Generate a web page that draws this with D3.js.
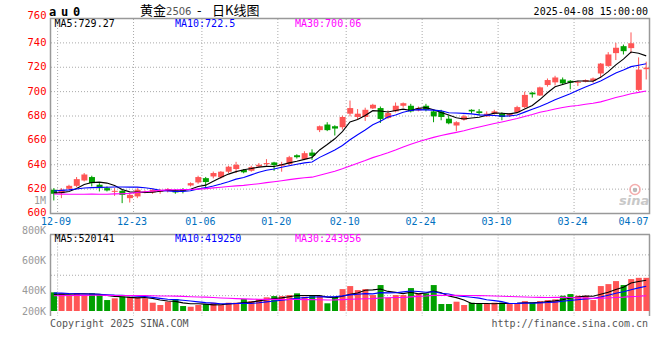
<!DOCTYPE html>
<html>
<head>
<meta charset="utf-8">
<script src="https://cdn.jsdelivr.net/npm/d3@7"></script>
<style>
  body { margin: 0; background: #fff; }
  svg { display: block; }
  text { font-family: "DejaVu Sans Mono", monospace; font-size: 10px; }
</style>
</head>
<body>
<svg id="chart" width="660" height="360"></svg>
<script>
// trading days shown (12-09 .. 04-08)
var dates = ['12-09','12-10','12-11','12-12','12-13','12-16','12-17','12-18','12-19','12-20',
  '12-23','12-24','12-25','12-26','12-27','12-30','12-31','01-02','01-03',
  '01-06','01-07','01-08','01-09','01-10','01-13','01-14','01-15','01-16','01-17',
  '01-20','01-21','01-22','01-23','01-24','01-27','02-05','02-06','02-07',
  '02-10','02-11','02-12','02-13','02-14','02-17','02-18','02-19','02-20','02-21',
  '02-24','02-25','02-26','02-27','02-28','03-03','03-04','03-05','03-06','03-07',
  '03-10','03-11','03-12','03-13','03-14','03-17','03-18','03-19','03-20','03-21',
  '03-24','03-25','03-26','03-27','03-28','03-31','04-01','04-02','04-03','04-07','04-08'];

var opens = [619.5,616.7,620.3,622.7,627.1,629.9,623.6,620.8,617.8,618.6,
  612.6,614.0,617.3,617.3,617.8,618.4,618.9,620.0,623.0,625.5,
  629.0,630.4,629.7,634.3,636.5,635.7,635.1,638.6,640.5,641.9,
  639.2,640.5,647.8,644.6,650.0,668.4,673.0,671.6,670.8,681.9,
  679.2,679.2,686.2,686.5,678.4,683.8,688.4,688.4,684.6,688.4,
  683.8,683.8,677.8,672.2,677.0,685.1,683.8,679.7,681.9,681.9,
  680.3,683.0,687.3,699.2,696.8,705.4,707.6,710.0,708.9,707.3,
  708.1,708.9,714.9,721.1,731.6,737.3,735.7,701.4,718.4];
var highs = [620.8,620.8,623.6,629.9,633.2,631.0,624.9,622.2,620.8,620.0,
  616.2,620.8,619.0,620.0,620.0,620.8,620.0,620.8,625.5,631.0,
  630.0,634.4,634.8,639.2,642.4,636.5,639.2,641.4,644.6,642.4,
  642.4,647.3,648.6,651.1,652.7,672.2,674.9,672.4,680.3,692.7,
  685.7,686.8,690.0,687.8,684.6,691.1,691.1,690.0,687.8,690.0,
  685.1,685.1,680.5,675.7,681.1,685.5,685.7,683.8,685.1,683.0,
  682.4,688.4,700.0,699.6,704.1,710.8,713.0,711.6,709.5,708.9,
  710.0,711.6,723.5,732.4,740.0,738.6,748.6,728.1,724.6];
var lows = [610.7,612.6,619.5,621.6,626.3,622.2,618.1,618.1,614.5,608.5,
  609.0,612.6,616.5,616.2,616.2,617.3,616.2,616.5,622.2,624.4,
  620.0,628.8,628.6,633.2,633.2,633.0,634.3,637.8,638.6,635.0,
  634.3,639.7,645.1,643.8,644.0,666.8,667.6,664.0,668.9,679.7,
  677.0,675.9,685.7,674.3,677.6,683.0,686.8,682.9,683.8,683.8,
  674.9,676.5,673.2,667.6,676.2,681.9,680.3,679.2,681.1,676.5,
  679.2,682.4,686.5,695.1,696.5,704.1,705.1,705.4,701.9,704.6,
  707.6,707.3,711.4,720.3,725.9,730.5,731.4,700.5,710.0];
var closes = [616.2,619.5,622.7,628.2,632.0,624.9,620.8,618.9,618.6,615.3,
  615.3,619.5,617.8,619.5,618.9,620.0,617.3,618.4,624.9,629.9,
  625.8,633.2,634.3,638.4,640.0,633.8,638.1,640.0,641.4,639.7,
  640.5,646.2,646.2,649.5,647.3,671.6,668.4,669.7,679.2,686.5,
  681.9,685.1,689.2,677.6,682.4,688.4,690.5,683.8,686.5,685.1,
  679.7,679.2,674.0,674.9,679.7,683.8,682.4,681.9,683.8,679.2,
  681.6,687.3,697.3,697.8,703.5,709.5,711.6,706.8,707.3,708.1,
  709.5,710.8,723.0,730.5,736.0,733.2,739.7,718.1,719.7];
var volumes = [315,298,269,298,269,298,269,185,214,241,
  241,231,214,140,101,157,202,84,72,101,
  118,140,101,140,140,202,168,202,231,252,
  252,269,298,241,252,252,130,241,370,421,
  353,370,269,438,224,269,269,387,298,298,
  438,118,118,157,101,140,118,118,140,140,
  118,130,168,140,168,185,197,258,286,258,
  258,185,421,454,505,438,539,560,560].map(function(v){ return v * 1000; });

// closes and volumes before the window, only used to seed the moving averages
var priorCloses = [623,626,628,630,624,622,621,608,612,606,600,598,601,603,608,614,617,622,620,613,
  614,618,622,623,622,619,618,616,615.8];
var priorVolumes = [220,240,230,260,250,245,270,280,260,240,230,210,220,215,225,230,220,215,235,215,
  300,340,330,320,311,290,270,280,264].map(function(v){ return v * 1000; });

var priceTicks = [600,620,640,660,680,700,720,740,760];
var dateTicks = ['12-09','12-23','01-06','01-20','02-10','02-24','03-10','03-24','04-07'];
var volTicks = [200000,400000,600000,800000,1000000];
var maPeriods = [5,10,30];
var maColors = ['#000000','#0000ff','#ff00ff'];
var priceMaText = ['729.27','722.5','700.06'];
var volMaText = ['520141','419250','243956'];

var up = '#ff5555', down = '#00a000', gridColor = '#aaa', frameColor = '#999';

var svg = d3.select('#chart');

var x = d3.scaleBand().domain(dates).range([50, 650]).padding(0);
var y = d3.scaleLinear().domain([600, 760]).range([213.5, 18.5]);
var yVol = d3.scaleLinear().domain([0, 1300000]).range([311, 234]);
var yVolLabel = d3.scaleLinear().domain([0, 1000000]).range([350, 200]);

var volTop = 234.5, volBottom = 316;
var cx = function(d){ return x(d) + x.bandwidth() / 2; };

var movingAvg = function(series, prior, n){
  var all = prior.concat(series);
  return series.map(function(_, i){
    var end = prior.length + i;
    return d3.mean(all.slice(end - n + 1, end + 1));
  });
};

// ---- grid ----
var grid = svg.append('g').attr('stroke', gridColor).attr('stroke-dasharray', '1,2');
priceTicks.slice(1, -1).forEach(function(v){
  grid.append('line').attr('x1', 51).attr('x2', 649).attr('y1', y(v)).attr('y2', y(v));
});
d3.range(1, 4).forEach(function(k){
  var gy = volTop + k * (volBottom - volTop) / 4;
  grid.append('line').attr('x1', 51).attr('x2', 649).attr('y1', gy).attr('y2', gy);
});
dateTicks.forEach(function(t){
  var gx = x(t) + x.step();
  if(gx > 640) return;
  grid.append('line').attr('x1', gx).attr('x2', gx).attr('y1', 19).attr('y2', 213);
  grid.append('line').attr('x1', gx).attr('x2', gx).attr('y1', volTop).attr('y2', volBottom);
});

// ---- frames ----
var frame = svg.append('g').attr('stroke', frameColor).attr('fill', 'none');
frame.append('rect').attr('x', 50.5).attr('y', 18.5).attr('width', 599).attr('height', 195)
  .attr('stroke-width', 1.5);
frame.append('line').attr('x1', 50).attr('x2', 650).attr('y1', volTop).attr('y2', volTop).attr('stroke-width', 1.5);
frame.append('line').attr('x1', 50.5).attr('x2', 50.5).attr('y1', volTop).attr('y2', volBottom).attr('stroke-width', 1.5);
frame.append('line').attr('x1', 649.5).attr('x2', 649.5).attr('y1', volTop).attr('y2', volBottom).attr('stroke-width', 1.5);

// ---- candles ----
var candles = svg.append('g').selectAll('g').data(dates).join('g')
  .attr('fill', function(d, i){ return closes[i] >= opens[i] ? up : down; })
  .attr('stroke', function(d, i){ return closes[i] >= opens[i] ? up : down; });
candles.append('line')
  .attr('x1', cx).attr('x2', cx)
  .attr('y1', function(d, i){ return y(highs[i]); })
  .attr('y2', function(d, i){ return y(lows[i]); })
  .attr('stroke-width', 1);
candles.append('rect')
  .attr('x', function(d){ return x(d) + 1; })
  .attr('width', x.bandwidth() - 1.6)
  .attr('y', function(d, i){ return y(Math.max(opens[i], closes[i])); })
  .attr('height', function(d, i){ return Math.max(1, Math.abs(y(opens[i]) - y(closes[i]))); })
  .attr('stroke', 'none');

// ---- volume bars ----
svg.append('g').selectAll('rect').data(dates).join('rect')
  .attr('x', function(d){ return x(d) + 1; })
  .attr('width', x.bandwidth() - 1.6)
  .attr('y', function(d, i){ return yVol(volumes[i]); })
  .attr('height', function(d, i){ return yVol(0) - yVol(volumes[i]); })
  .attr('fill', function(d, i){ return closes[i] >= opens[i] ? up : down; });

// ---- moving averages ----
maPeriods.forEach(function(n, k){
  var pm = movingAvg(closes, priorCloses, n);
  var vm = movingAvg(volumes, priorVolumes, n);
  svg.append('path').datum(pm)
    .attr('fill', 'none').attr('stroke', maColors[k]).attr('stroke-width', 1.1)
    .attr('d', d3.line().x(function(d, i){ return cx(dates[i]); }).y(function(d){ return y(d); }));
  svg.append('path').datum(vm)
    .attr('fill', 'none').attr('stroke', maColors[k]).attr('stroke-width', 1.1)
    .attr('d', d3.line().x(function(d, i){ return cx(dates[i]); }).y(function(d){ return yVol(d); }));
});

// ---- axes labels ----
var priceAxis = svg.append('g').attr('transform', 'translate(46.5,-1)')
  .call(d3.axisLeft(y).tickValues(priceTicks).tickSize(0).tickPadding(0));
priceAxis.select('.domain').remove();
priceAxis.selectAll('text').attr('fill', '#ff0000')
  .attr('dy', function(v){ return v === 760 ? '0.05em' : '0.32em'; })
  .style('font-family', '"DejaVu Sans Mono", monospace').style('font-size', '10.5px');

svg.append('g').selectAll('text').data(volTicks).join('text')
  .attr('x', 46).attr('y', function(v){ return Math.min(yVolLabel(v), 311); })
  .attr('dy', '0.35em').attr('text-anchor', 'end').attr('fill', '#999')
  .text(function(v){ return v >= 1000000 ? (v / 1000000) + 'M' : (v / 1000) + 'K'; });

svg.append('g').selectAll('text').data(dateTicks).join('text')
  .attr('x', function(t){ return Math.min(x(t) + x.step() - 1.5, 633.5); })
  .attr('y', 224.8).attr('text-anchor', 'middle').attr('fill', '#0070c0')
  .text(function(t){ return t; });

// ---- titles and legends ----
svg.append('text').attr('x', 49).attr('y', 16)
  .style('font-size', '12px').style('font-weight', 'bold').style('letter-spacing', '4.8px')
  .text('au0');
var title = svg.append('text').attr('y', 15).attr('fill', '#000')
  .style('font-family', '"Noto Sans CJK SC", sans-serif').style('font-size', '13px');
title.append('tspan').attr('x', 140).text('黄金');
title.append('tspan').attr('fill', '#555').style('font-family', '"DejaVu Sans", sans-serif')
  .style('font-size', '10px').text('2506');
title.append('tspan').attr('x', 197).text('-');
title.append('tspan').attr('x', 212).text('日K线图');
svg.append('text').attr('x', 648).attr('y', 15).attr('text-anchor', 'end')
  .text('2025-04-08 15:00:00');

var legendX = [54.5, 175, 295];
maPeriods.forEach(function(n, k){
  svg.append('text').attr('x', legendX[k]).attr('y', 26.8).attr('fill', maColors[k])
    .text('MA' + n + ':' + priceMaText[k]);
  svg.append('text').attr('x', legendX[k]).attr('y', 241.8).attr('fill', maColors[k])
    .text('MA' + n + ':' + volMaText[k]);
});

svg.append('text').attr('x', 50).attr('y', 326.5).attr('fill', '#555').text('Copyright 2025 SINA.COM');
svg.append('text').attr('x', 648).attr('y', 326.5).attr('text-anchor', 'end').attr('fill', '#555')
  .text('http://finance.sina.com.cn');

// sina watermark
var logo = svg.append('g').attr('opacity', 0.8);
logo.append('circle').attr('cx', 635).attr('cy', 189.5).attr('r', 5)
  .attr('fill', 'none').attr('stroke', '#f29a9a').attr('stroke-width', 1.6);
logo.append('circle').attr('cx', 635).attr('cy', 190).attr('r', 2.2).attr('fill', '#aaa');
logo.append('text').attr('x', 619).attr('y', 205).attr('fill', '#bbb')
  .style('font-family', '"DejaVu Sans", sans-serif').style('font-size', '13px')
  .style('font-weight', 'bold').style('font-style', 'italic').text('sina');
</script>
</body>
</html>
